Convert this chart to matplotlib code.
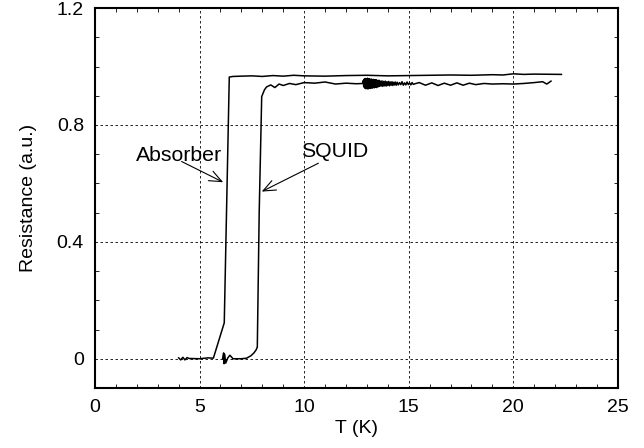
import matplotlib
matplotlib.use('Agg')
import matplotlib.pyplot as plt
from matplotlib.ticker import MultipleLocator

plt.rcParams['font.family'] = ['Liberation Sans', 'DejaVu Sans']

# Absorber curve
abs_T = [4.0, 4.1, 4.2, 4.3, 4.4, 4.5, 5.0, 5.4, 5.66, 6.18, 6.42, 6.6, 7.0, 7.5, 8.0,
         8.5, 9.0, 9.5, 10.0, 11.0, 12.0, 13.0, 14.0, 15.0, 16.0, 17.0, 18.0, 19.0, 19.5,
         20.0, 20.5, 21.0, 22.3]
abs_R = [0.003, -0.004, 0.005, -0.004, 0.004, 0.001, 0.0, 0.003, 0.002, 0.123, 0.964,
         0.966, 0.967, 0.968, 0.966, 0.969, 0.967, 0.970, 0.968, 0.967, 0.969, 0.970,
         0.968, 0.969, 0.970, 0.971, 0.970, 0.972, 0.971, 0.975, 0.973, 0.974, 0.973]

# SQUID curve
sq_T = [6.10, 6.15, 6.17, 6.20, 6.25, 6.35, 6.45, 6.6, 7.0, 7.25, 7.45, 7.6, 7.7, 7.76,
        7.85, 7.97, 8.1, 8.2, 8.4, 8.6, 8.8, 9.0, 9.3, 9.6, 10.0, 10.5, 11.0, 11.5, 12.0,
        12.5, 12.800, 12.825, 12.850, 12.875, 12.900, 12.925, 12.950, 12.975, 13.000,
        13.025, 13.050, 13.075, 13.100, 13.125, 13.150, 13.175, 13.200, 13.225, 13.250,
        13.275, 13.300, 13.325, 13.350, 13.375, 13.400, 13.425, 13.450, 13.475, 13.500,
        13.525, 13.550, 13.575, 13.600, 13.64, 13.68, 13.72, 13.76, 13.80, 13.84, 13.88,
        13.92, 13.96, 14.00, 14.04, 14.08, 14.12, 14.16, 14.20, 14.24, 14.28, 14.32,
        14.36, 14.40, 14.45, 14.50, 14.56, 14.62, 14.68, 14.74, 14.80, 14.86, 14.92,
        14.98, 15.04, 15.10, 15.16, 15.22, 15.30, 15.5, 15.8, 16.1, 16.4, 16.7, 17.0,
        17.3, 17.6, 17.9, 18.2, 18.6, 19.0, 19.5, 20.0, 20.5, 21.0, 21.4, 21.6, 21.8]
sq_R = [0.0, 0.02, -0.017, 0.015, -0.015, 0.003, 0.012, 0.0, 0.0, 0.002, 0.01, 0.02,
        0.03, 0.04, 0.5, 0.897, 0.92, 0.93, 0.937, 0.928, 0.940, 0.935, 0.942, 0.938,
        0.945, 0.943, 0.947, 0.940, 0.943, 0.941,
        0.942, 0.952, 0.930, 0.957, 0.926, 0.959, 0.924, 0.958, 0.925, 0.960, 0.923,
        0.957, 0.926, 0.958, 0.925, 0.956, 0.927, 0.957, 0.926, 0.955, 0.928, 0.956,
        0.927, 0.954, 0.929, 0.955, 0.928, 0.953, 0.930, 0.952, 0.931, 0.953, 0.932,
        0.950, 0.933, 0.951, 0.932, 0.949, 0.934, 0.950, 0.933, 0.948, 0.935, 0.949,
        0.934, 0.947, 0.936, 0.948, 0.935, 0.946, 0.937, 0.947, 0.936, 0.946, 0.937,
        0.945, 0.938, 0.948, 0.936, 0.944, 0.937, 0.947, 0.938, 0.944, 0.937, 0.945,
        0.939, 0.941,
        0.945, 0.936, 0.944, 0.935, 0.943, 0.936, 0.944, 0.936, 0.943, 0.938, 0.942,
        0.940, 0.941, 0.940, 0.942, 0.945, 0.948, 0.940, 0.950]

# annotations: (label, text position, arrow tail, arrow tip)
labels = ['Absorber', 'SQUID']
text_pos = [(4.02, 0.678), (11.47, 0.692)]
tails = [(4.14, 0.675), (10.68, 0.669)]
tips = [(6.13, 0.604), (7.97, 0.572)]

fig = plt.figure(figsize=(6.44, 4.48), dpi=100)
ax = fig.add_axes([0.1475, 0.134, 0.812, 0.848])

ax.plot(abs_T, abs_R, color='black', lw=1.1)
ax.plot(sq_T, sq_R, color='black', lw=1.1)

ax.set_xlim(0, 25)
ax.set_ylim(-0.1, 1.2)
ax.xaxis.set_major_locator(MultipleLocator(5))
ax.xaxis.set_minor_locator(MultipleLocator(1))
ax.set_yticks([0, 0.4, 0.8, 1.2])
ax.set_yticklabels(['0', '0.4', '0.8', '1.2'])
ax.yaxis.set_minor_locator(MultipleLocator(0.1))
ax.tick_params(which='both', direction='in', top=True, right=True, labelsize=14)
ax.tick_params(which='major', length=0, pad=8)
ax.tick_params(which='minor', length=3, width=0.6)
ax.grid(True, which='major', color='black', ls=(0, (3, 3)), lw=0.6)
for s in ax.spines.values():
    s.set_linewidth(1.5)

ax.set_xlabel('T (K)', fontsize=14, labelpad=3)
ax.set_ylabel('Resistance (a.u.)', fontsize=14, labelpad=14)

for lab, tp, tl, tip in zip(labels, text_pos, tails, tips):
    ax.text(tp[0], tp[1], lab, fontsize=15.3, ha='center', va='baseline')
    ax.annotate('', xy=tip, xytext=tl,
                arrowprops=dict(arrowstyle='->, head_length=0.6, head_width=0.25',
                                color='black', lw=0.8, mutation_scale=15,
                                shrinkA=0, shrinkB=0))

fig.savefig('out.png', dpi=100)
